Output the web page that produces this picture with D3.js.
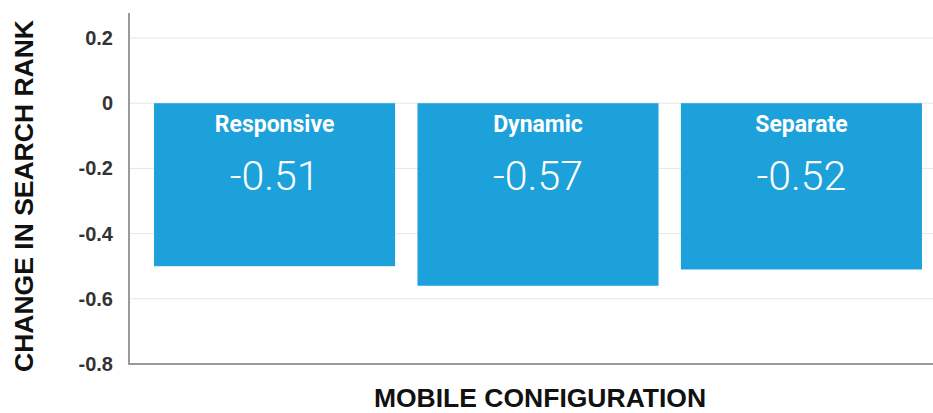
<!DOCTYPE html>
<html>
<head>
<meta charset="utf-8">
<script src="https://cdn.jsdelivr.net/npm/d3@7"></script>
<style>
	body { margin: 0; background: #fff; }
	svg { display: block; }
</style>
</head>
<body>
<svg id="chart" width="933" height="413"></svg>
<script>
// chart data
const configs = ["Responsive", "Dynamic", "Separate"];
const rankChange = [-0.50, -0.56, -0.51];
const valueLabels = ["-0.51", "-0.57", "-0.52"];
const yTicks = [0.2, 0, -0.2, -0.4, -0.6, -0.8];
const yTickLabels = ["0.2", "0", "-0.2", "-0.4", "-0.6", "-0.8"];

const svg = d3.select("#chart");

let x = d3.scaleBand()
	.domain(configs)
	.range([129, 947])
	.paddingInner(0.085)
	.paddingOuter(0.095);

let y = d3.scaleLinear()
	.domain([-0.8, 0.2])
	.range([364, 38]);

// gridlines
svg.append("g")
	.selectAll("line")
	.data(yTicks)
	.enter()
	.append("line")
	.attr("x1", 129)
	.attr("x2", 933)
	.attr("y1", d => y(d))
	.attr("y2", d => y(d))
	.attr("stroke", "#e6e6e6")
	.attr("stroke-width", 1);

// y axis with labels only
let yAxis = d3.axisLeft(y)
	.tickValues(yTicks)
	.tickSize(0)
	.tickPadding(16)
	.tickFormat((d, i) => yTickLabels[i]);

let yg = svg.append("g")
	.attr("transform", "translate(129,0)")
	.call(yAxis);
yg.select(".domain").remove();
yg.selectAll("text")
	.attr("fill", "#333")
	.style("font-family", "'Liberation Sans', Arial, sans-serif")
	.style("font-weight", "bold")
	.style("font-size", "20px");

// bars
let bars = svg.append("g")
	.selectAll("g")
	.data(configs)
	.enter()
	.append("g");

bars.append("rect")
	.attr("fill", "#1da1db")
	.attr("x", d => x(d))
	.attr("y", (d, i) => y(Math.max(0, rankChange[i])))
	.attr("width", x.bandwidth())
	.attr("height", (d, i) => Math.abs(y(rankChange[i]) - y(0)));

bars.append("text")
	.attr("x", d => x(d) + x.bandwidth() / 2)
	.attr("y", y(0) + 29)
	.attr("text-anchor", "middle")
	.attr("fill", "#fff")
	.style("font-family", "Roboto, 'Liberation Sans', sans-serif")
	.style("font-weight", "bold")
	.style("font-size", "23px")
	.text(d => d);

bars.append("text")
	.attr("x", d => x(d) + x.bandwidth() / 2)
	.attr("y", y(0) + 87)
	.attr("text-anchor", "middle")
	.attr("fill", "#fff")
	.style("font-family", "Roboto, 'Liberation Sans', sans-serif")
	.style("font-weight", "300")
	.style("font-size", "41px")
	.text((d, i) => valueLabels[i]);

// axis lines
svg.append("line")
	.attr("x1", 129).attr("x2", 129)
	.attr("y1", y(0.277)).attr("y2", y(-0.8) + 1)
	.attr("stroke", "#9a9a9a")
	.attr("stroke-width", 2);

svg.append("line")
	.attr("x1", 128).attr("x2", 933)
	.attr("y1", y(-0.8)).attr("y2", y(-0.8))
	.attr("stroke", "#9a9a9a")
	.attr("stroke-width", 2);

// x-axis label
svg.append("text")
	.attr("x", 540)
	.attr("y", 407)
	.attr("text-anchor", "middle")
	.attr("fill", "#111")
	.style("font-family", "'Liberation Sans', Arial, sans-serif")
	.style("font-weight", "bold")
	.style("font-size", "26.5px")
	.text("MOBILE CONFIGURATION");

// y-axis label
svg.append("text")
	.attr("transform", "rotate(-90)")
	.attr("x", -196)
	.attr("y", 33)
	.attr("text-anchor", "middle")
	.attr("fill", "#111")
	.style("font-family", "'Liberation Sans', Arial, sans-serif")
	.style("font-weight", "bold")
	.style("font-size", "26.5px")
	.text("CHANGE IN SEARCH RANK");
</script>
</body>
</html>
